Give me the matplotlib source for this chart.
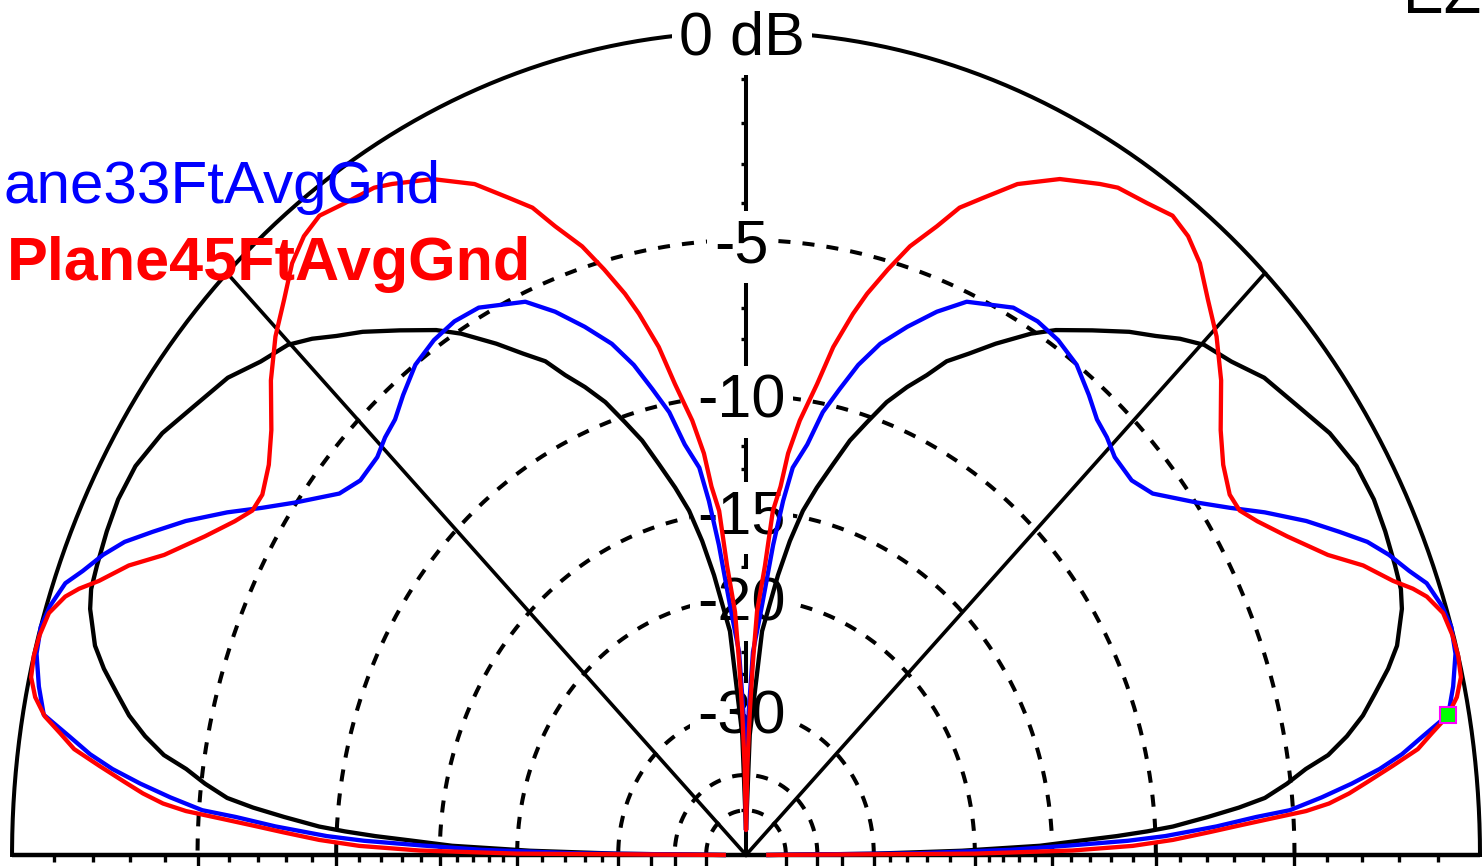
import numpy as np
import matplotlib.pyplot as plt

plt.rcParams['font.family'] = ['Liberation Sans', 'DejaVu Sans']

# elevation patterns, 0..90 deg, relative dB (0 dB = outer ring); mirrored to 180
el_45 = [0, 0.3, 0.7, 1.2, 1.8, 2.5, 3.0, 3.5, 4.0, 4.5, 5.2, 6.0, 7.0, 8.0, 9.0,
         10.0, 11.2, 12.5, 14.0, 15.5, 17.2, 18.7, 19.6, 20.7, 22.7, 24.7, 27.7,
         30.2, 31.9, 33.6, 36.1, 38.6, 41.7, 44.5, 47.0, 49.3, 51.3, 53.2, 55.4,
         58.0, 59.4, 62.5, 65.6, 68.0, 69.7, 71.2, 73.2, 74.8, 76.4, 77.5, 79.1,
         80.4, 82.1, 83.3, 84.0, 85.0, 85.8, 87.1, 87.7, 88.3, 89.0, 90]
db_45 = [-60, -20, -13.9, -11.0, -9.3, -7.9, -6.9, -5.8, -4.6, -3.9, -3.3, -2.75,
         -2.05, -1.35, -0.95, -0.52, -0.22, -0.04, 0.0, -0.02, -0.1, -0.36, -0.62,
         -1.02, -1.59, -2.34, -3.14, -3.70, -4.0, -4.02, -3.73, -3.25, -2.45, -1.83,
         -1.38, -0.91, -0.64, -0.52, -0.66, -0.77, -0.93, -1.32, -1.90, -2.57, -3.02,
         -3.68, -4.43, -5.23, -6.08, -6.78, -7.97, -9.34, -10.8, -12.2, -13.7, -14.9,
         -17.9, -20.9, -24.9, -30, -38, -60]

el_33 = [0, 0.5, 1.0, 1.5, 1.9, 2.3, 3.1, 3.8, 4.2, 5.1, 6.0, 6.9, 7.8, 8.9, 10.1,
         12.0, 14.2, 16.1, 17.7, 19.6, 20.9, 22.6, 24.2, 25.9, 28.0, 30.5, 32.6,
         34.9, 38.4, 40.9, 43.9, 45.9, 47.9, 50.1, 52.9, 55.8, 58.5, 61.3, 65.9,
         68.5, 71.1, 73.6, 75.6, 77.3, 79.0, 80.5, 82.3, 83.3, 84.4, 85.4, 86.2,
         87.8, 88.8, 89.5, 90]
db_33 = [-60, -25, -17.5, -14.0, -11.2, -9.6, -7.6, -6.2, -5.1, -4.1, -3.2, -2.4,
         -1.77, -1.18, -0.49, -0.26, -0.05, 0.0, -0.08, -0.27, -0.57, -0.9, -1.28,
         -1.83, -2.5, -3.4, -4.2, -4.97, -5.95, -6.24, -6.19, -5.96, -5.8, -5.44,
         -5.01, -4.79, -4.70, -4.75, -5.25, -5.89, -6.66, -7.46, -8.35, -9.34,
         -10.32, -11.7, -12.78, -14.36, -16.68, -19.29, -21.1, -24.0, -30, -40, -60]

el_ref = [0, 0.5, 1.0, 1.6, 2.2, 2.6, 3.0, 3.4, 4.2, 4.9, 5.6, 6.7, 7.8, 8.7, 10.0,
          11.4, 12.9, 14.5, 16.0, 18.5, 19.9, 21.7, 24.3, 26.8, 29.6, 32.8, 36.0,
          39.4, 42.2, 44.8, 46.7, 48.5, 50.6, 53.5, 56.5, 58.5, 61.3, 63.5, 65.5,
          67.1, 68.9, 70.8, 72.6, 74.3, 76.0, 77.8, 79.5, 81.1, 82.7, 85.4, 86.1,
          88.0, 90]
db_ref = [-60, -30, -21, -15.7, -13.45, -11.7, -10.35, -9.27, -7.9, -6.77, -5.87,
          -5.12, -4.49, -3.78, -3.17, -2.64, -2.21, -1.74, -1.38, -1.02, -0.9, -0.85,
          -0.78, -0.73, -0.76, -0.95, -1.27, -1.55, -1.95, -2.2, -2.55, -2.95, -3.35,
          -3.98, -4.6, -5.1, -5.92, -6.6, -7.15, -7.85, -8.5, -9.27, -10.23,
          -11.12, -12.28, -13.45, -14.67, -16.33, -18.38, -22.3, -25.9, -33, -60]

ring_db = [0, -5, -10, -15, -20, -30, -40, -50]
ring_labels = ['0 dB', '-5', '-10', '-15', '-20', '-30']
tick_db = list(range(-1, -21, -1)) + [-22, -24, -26, -28, -30, -35, -40, -50]
legend_names = ['ane33FtAvgGnd', 'Plane45FtAvgGnd']
cursor_el, cursor_db = 10.1, -0.5

BLUE = '#0000ff'
RED = '#ff0000'


def arrl(db):
    # ARRL log grid: radius shrinks by 0.89 for every 2 dB
    return 0.89 ** (-np.asarray(db, dtype=float) / 2.0)


def mirror(el, db):
    el = np.asarray(el, float)
    db = np.asarray(db, float)
    return (np.concatenate([el, 180 - el[::-1][1:]]),
            np.concatenate([db, db[::-1][1:]]))


fig = plt.figure(figsize=(14.83, 8.66), dpi=100)
ax = fig.add_axes([0, 0, 1, 1])
ax.set_xlim(-1.0164, 1.0041)
ax.set_ylim(-0.0134, 1.0389)
ax.axis('off')

# grid rings
t = np.linspace(0, np.pi, 500)
for d in ring_db:
    r = arrl(d)
    ls = '-' if d == 0 else (0, (3, 3))
    ax.plot(r * np.cos(t), r * np.sin(t), color='black', lw=2.9, ls=ls, zorder=1)

# 45 deg spokes, vertical axis, horizon
for a in (45, 135):
    ax.plot([0, np.cos(np.radians(a))], [0, np.sin(np.radians(a))],
            color='black', lw=2.6, zorder=1)
ax.plot([0, 0], [0, 1], color='black', lw=2.9, zorder=1)
ax.plot([-1, 1], [0, 0], color='black', lw=3.2, zorder=1, solid_capstyle='butt')

for d in tick_db:
    r = arrl(d)
    tl = 0.013 if d % 5 == 0 else 0.008
    for s in (-1, 1):
        ax.plot([s * r, s * r], [0, -tl], color='black', lw=2.4,
                solid_capstyle='butt', zorder=1)
    ax.plot([-0.007, 0], [r, r], color='black', lw=2.4,
            solid_capstyle='butt', zorder=1)

for d, s in zip(ring_db, ring_labels):
    ax.annotate(s, xy=(0, arrl(d)), xytext=(-3, -16), textcoords='offset points',
                ha='center', va='baseline', fontsize=44, color='black',
                bbox=dict(boxstyle='square,pad=0.12', fc='white', ec='none'),
                zorder=2)

# pattern traces
for el, db, c in [(el_ref, db_ref, 'black'), (el_33, db_33, BLUE), (el_45, db_45, RED)]:
    e, d = mirror(el, db)
    r = arrl(d)
    a = np.radians(e)
    ax.plot(r * np.cos(a), r * np.sin(a), color=c, lw=3.1, zorder=3,
            solid_joinstyle='round')

# cursor
rc = arrl(cursor_db)
ac = np.radians(cursor_el)
ax.plot([rc * np.cos(ac)], [rc * np.sin(ac)], marker='s', ms=12,
        mfc='#00ff00', mec='#ff00ff', mew=1.5, zorder=4)

fig.text(3 / 1483, 1 - 203 / 866, legend_names[0], color=BLUE, fontsize=43.4,
         ha='left', va='baseline')
fig.text(7 / 1483, 1 - 280 / 866, legend_names[1], color=RED, fontsize=44,
         fontweight='bold', ha='left', va='baseline')
fig.text(1403 / 1483, 1 - 14 / 866, 'EZNEC', color='black', fontsize=44,
         ha='left', va='baseline')

fig.savefig('out.png', dpi=100)
